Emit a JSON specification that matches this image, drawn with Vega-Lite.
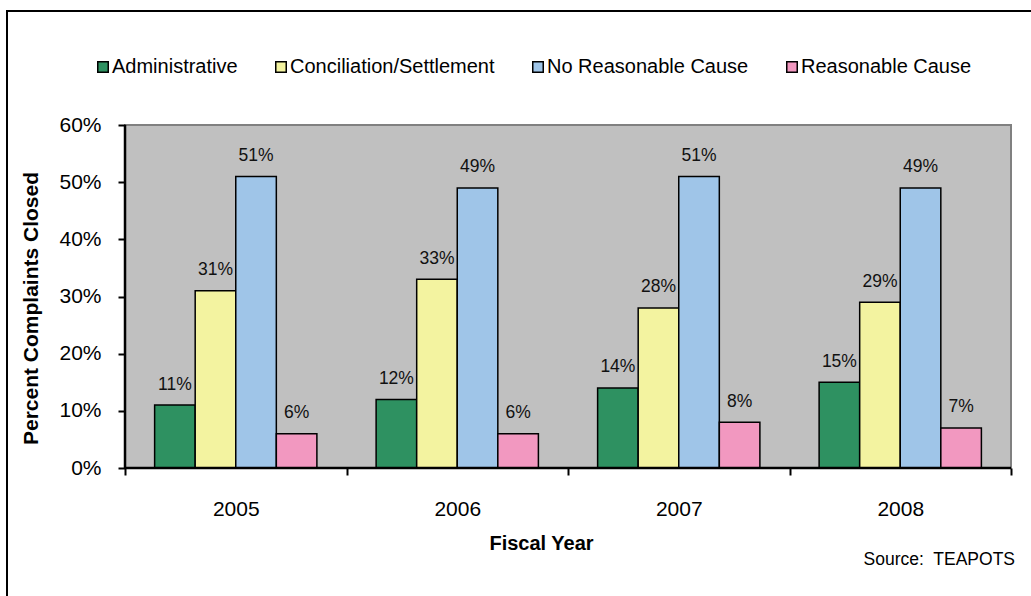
{
  "$schema": "https://vega.github.io/schema/vega-lite/v6.json",
  "width": 1027,
  "height": 588,
  "autosize": {"type": "none"},
  "padding": {"left": 7, "top": 11, "right": -3, "bottom": -3},
  "background": "white",
  "config": {
    "font": "Liberation Sans",
    "view": {"stroke": "black", "strokeWidth": 2, "fill": "white"},
    "axis": {"grid": false, "labelColor": "black", "titleColor": "black", "tickColor": "black"}
  },
  "title": {
    "text": "Source:\u00a0 TEAPOTS",
    "orient": "bottom",
    "anchor": "end",
    "frame": "group",
    "offset": -48,
    "dx": -19,
    "fontSize": 17.5,
    "fontWeight": "normal",
    "color": "black",
    "font": "Liberation Sans"
  },
  "data": {
    "values": [
      {"year": "2005", "category": "Administrative", "value": 0.11},
      {"year": "2005", "category": "Conciliation/Settlement", "value": 0.31},
      {"year": "2005", "category": "No Reasonable Cause", "value": 0.51},
      {"year": "2005", "category": "Reasonable Cause", "value": 0.06},
      {"year": "2006", "category": "Administrative", "value": 0.12},
      {"year": "2006", "category": "Conciliation/Settlement", "value": 0.33},
      {"year": "2006", "category": "No Reasonable Cause", "value": 0.49},
      {"year": "2006", "category": "Reasonable Cause", "value": 0.06},
      {"year": "2007", "category": "Administrative", "value": 0.14},
      {"year": "2007", "category": "Conciliation/Settlement", "value": 0.28},
      {"year": "2007", "category": "No Reasonable Cause", "value": 0.51},
      {"year": "2007", "category": "Reasonable Cause", "value": 0.08},
      {"year": "2008", "category": "Administrative", "value": 0.15},
      {"year": "2008", "category": "Conciliation/Settlement", "value": 0.29},
      {"year": "2008", "category": "No Reasonable Cause", "value": 0.49},
      {"year": "2008", "category": "Reasonable Cause", "value": 0.07}
    ]
  },
  "layer": [
    {
      "data": {"values": [{}]},
      "mark": {"type": "rect", "fill": "#C0C0C0", "stroke": "#808080", "strokeWidth": 2},
      "encoding": {
        "x": {
          "datum": "2005", "bandPosition": 0, "type": "ordinal", "title": "Fiscal Year",
          "scale": {"domain": ["2005", "2006", "2007", "2008"], "paddingInner": 0, "paddingOuter": 0.3183, "align": 0.8369, "round": false},
          "axis": {
            "orient": "bottom", "offset": -131, "domain": false, "tickBand": "extent",
            "tickSize": 7, "tickWidth": 2, "tickColor": "black",
            "labelAngle": 0, "labelFontSize": 21, "labelPadding": 23, "labelColor": "black",
            "titleFontSize": 20, "titleFontWeight": "bold", "titleX": 534, "titleY": 81.5,
            "titleAlign": "center", "titleBaseline": "alphabetic", "zindex": 1
          }
        },
        "x2": {"datum": "2008", "bandPosition": 1},
        "y": {
          "datum": 0, "type": "quantitative", "title": "Percent Complaints Closed",
          "scale": {"domain": [-0.22915, 0.79942], "nice": false, "zero": false},
          "axis": {
            "values": [0, 0.1, 0.2, 0.3, 0.4, 0.5, 0.6], "format": ".0%",
            "offset": -118, "domain": false, "tickSize": 7, "tickWidth": 2, "tickColor": "black",
            "labelFontSize": 21, "labelPadding": 17, "labelColor": "black",
            "titleFontSize": 21, "titleFontWeight": "bold", "titleX": -88, "titleY": 297,
            "titleAlign": "center", "titleBaseline": "alphabetic", "titleAngle": -90, "zindex": 1
          }
        },
        "y2": {"datum": 0.6}
      }
    },
    {
      "mark": {"type": "bar", "stroke": "black", "strokeWidth": 1.5},
      "encoding": {
        "x": {"field": "year", "type": "ordinal", "title": "Fiscal Year"},
        "xOffset": {
          "field": "category", "type": "nominal",
          "scale": {"domain": ["Administrative", "Conciliation/Settlement", "No Reasonable Cause", "Reasonable Cause"], "paddingInner": 0, "paddingOuter": 0.73}
        },
        "y": {"field": "value", "type": "quantitative", "title": "Percent Complaints Closed"},
        "y2": {"datum": 0},
        "color": {
          "field": "category", "type": "nominal",
          "scale": {
            "domain": ["Administrative", "Conciliation/Settlement", "No Reasonable Cause", "Reasonable Cause"],
            "range": ["#2E9161", "#F3F3A0", "#9FC5E8", "#F298C0"]
          },
          "legend": {
            "title": null, "orient": "none", "direction": "horizontal", "columns": 4,
            "legendX": 86, "legendY": 46, "padding": 0,
            "symbolType": "square", "symbolSize": 110, "symbolStrokeColor": "black", "symbolStrokeWidth": 1.5,
            "labelFontSize": 20, "labelColor": "black", "labelOffset": -1, "columnPadding": 33,
            "labelBaseline": "middle", "labelLimit": 400
          }
        }
      }
    },
    {
      "mark": {"type": "text", "baseline": "alphabetic", "dy": -15.5, "fontSize": 17.5, "color": "#111111"},
      "encoding": {
        "x": {"field": "year", "type": "ordinal", "title": "Fiscal Year"},
        "xOffset": {"field": "category", "type": "nominal"},
        "y": {"field": "value", "type": "quantitative", "title": "Percent Complaints Closed"},
        "text": {"field": "value", "type": "quantitative", "format": ".0%"}
      }
    },
    {
      "data": {"values": [{}]},
      "mark": {"type": "rule", "color": "black", "strokeWidth": 2.5},
      "encoding": {
        "x": {"datum": "2005", "bandPosition": 0, "type": "ordinal", "title": "Fiscal Year"},
        "y": {"datum": 0, "type": "quantitative", "title": "Percent Complaints Closed"},
        "y2": {"datum": 0.6}
      }
    },
    {
      "data": {"values": [{}]},
      "mark": {"type": "rule", "color": "black", "strokeWidth": 2.5},
      "encoding": {
        "x": {"datum": "2005", "bandPosition": 0, "type": "ordinal", "title": "Fiscal Year"},
        "x2": {"datum": "2008", "bandPosition": 1},
        "y": {"datum": 0, "type": "quantitative", "title": "Percent Complaints Closed"}
      }
    }
  ]
}
